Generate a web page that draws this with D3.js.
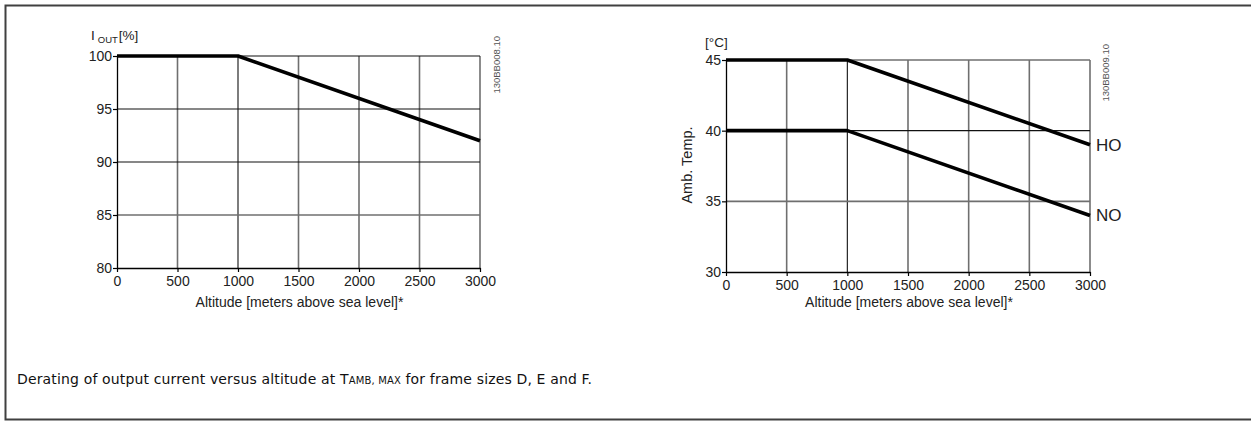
<!DOCTYPE html>
<html>
<head>
<meta charset="utf-8">
<script src="https://cdn.jsdelivr.net/npm/d3@7"></script>
<style>
  html, body { margin: 0; padding: 0; background: #fff; overflow: hidden; }
  svg { display: block; }
</style>
</head>
<body>
<svg id="chart" width="1251" height="421"></svg>
<script>
// ---- data ----
const altitude = [0, 1000, 3000];
const ioutPct = [100, 100, 92];
const hoTemp = [45, 45, 39];
const noTemp = [40, 40, 34];
const xTicks = [0, 500, 1000, 1500, 2000, 2500, 3000];
const yTicksCurrent = [80, 85, 90, 95, 100];
const yTicksTemp = [30, 35, 40, 45];
const xTitle = "Altitude [meters above sea level]*";
const caption = "Derating of output current versus altitude at T";

const SANS = "'Liberation Sans', Arial, sans-serif";
const svg = d3.select("#chart");

// outer frame (right edge lies outside the window)
svg.append("path")
  .attr("d", "M1260,5.5 H5.5 V419.5 H1260")
  .attr("fill", "none").attr("stroke", "#404040").attr("stroke-width", 2);

function txt(sel) {
  return sel.style("font-family", SANS).style("fill", "#222");
}

function panel(opts) {
  const x = d3.scaleLinear().domain([0, 3000]).range(opts.xr);
  const y = d3.scaleLinear().domain(opts.yd).range(opts.yr);
  const g = svg.append("g");

  // grid
  const gg = g.append("g");
  xTicks.forEach(t => {
    if (t === 0) return;
    const dark = opts.darkX.includes(t);
    gg.append("line").attr("x1", x(t)).attr("x2", x(t))
      .attr("y1", y(opts.yd[0])).attr("y2", y(opts.yd[1]))
      .attr("stroke", dark ? "#111" : "#6f6f6f").attr("stroke-width", dark ? 1.1 : 1.6);
  });
  opts.yTicks.forEach(t => {
    if (t === opts.yd[0]) return;
    const dark = opts.darkY.includes(t);
    gg.append("line").attr("x1", x(0)).attr("x2", x(3000))
      .attr("y1", y(t)).attr("y2", y(t))
      .attr("stroke", dark ? "#111" : "#6f6f6f").attr("stroke-width", dark ? 1.1 : 1.6);
  });

  // axes
  const xa = g.append("g").attr("transform", `translate(0,${y(opts.yd[0])})`)
    .call(d3.axisBottom(x).tickValues(xTicks).tickFormat(d3.format("d"))
      .tickSize(4).tickPadding(4).tickSizeOuter(0));
  const ya = g.append("g").attr("transform", `translate(${x(0)},0)`)
    .call(d3.axisLeft(y).tickValues(opts.yTicks).tickFormat(d3.format("d"))
      .tickSize(4).tickPadding(1).tickSizeOuter(0));
  [xa, ya].forEach(a => {
    a.select(".domain").attr("stroke", "#000").attr("stroke-width", 1.3);
    a.selectAll(".tick line").attr("stroke", "#000").attr("stroke-width", 1.2);
    txt(a.selectAll(".tick text")).style("font-size", "14px");
  });

  // series
  const line = d3.line().x((d, i) => x(altitude[i])).y(d => y(d));
  opts.series.forEach(s => {
    g.append("path").datum(s)
      .attr("d", line).attr("fill", "none").attr("stroke", "#000")
      .attr("stroke-width", 3.6).attr("stroke-linejoin", "round");
  });

  // x title
  txt(g.append("text").attr("x", (opts.xr[0] + opts.xr[1]) / 2 + 1).attr("y", 307)
    .attr("text-anchor", "middle")).style("font-size", "14px").text(xTitle);

  // code label
  g.append("text")
    .attr("transform", `translate(${opts.codeX},${opts.codeY}) rotate(-90)`)
    .attr("text-anchor", "end")
    .style("font-family", SANS).style("font-size", "9.5px").style("fill", "#555")
    .text(opts.code);
  return { x, y, g };
}

// panel 1: output current
const p1 = panel({
  xr: [117, 480], yd: [80, 100], yr: [268, 56],
  yTicks: yTicksCurrent, darkX: [1000], darkY: [90, 95, 100],
  series: [ioutPct], code: "130BB008.10", codeX: 500, codeY: 36
});
const l1 = txt(p1.g.append("text").attr("x", 91).attr("y", 40)).style("font-size", "13.5px");
l1.append("tspan").text("I");
l1.append("tspan").attr("dx", 3).attr("dy", 3).style("font-size", "9.5px").text("OUT");
l1.append("tspan").attr("dx", 1).attr("dy", -3).text("[%]");

// panel 2: ambient temperature
const p2 = panel({
  xr: [726, 1090], yd: [30, 45], yr: [272, 60],
  yTicks: yTicksTemp, darkX: [1000], darkY: [40],
  series: [hoTemp, noTemp], code: "130BB009.10", codeX: 1109, codeY: 44
});
txt(p2.g.append("text").attr("x", 705).attr("y", 47)).style("font-size", "13.5px").text("[°C]");
txt(p2.g.append("text").attr("transform", "translate(692,165) rotate(-90)")
  .attr("text-anchor", "middle")).style("font-size", "14.5px").text("Amb. Temp.");
txt(p2.g.append("text").attr("x", 1096).attr("y", p2.y(hoTemp[2]) + 6))
  .style("font-size", "17px").text("HO");
txt(p2.g.append("text").attr("x", 1096).attr("y", p2.y(noTemp[2]) + 6))
  .style("font-size", "17px").text("NO");

// caption
const cap = svg.append("text").attr("x", 17).attr("y", 384)
  .style("font-family", "'DejaVu Sans', Verdana, sans-serif")
  .style("font-size", "14px").style("letter-spacing", "0.15px").style("fill", "#111");
cap.append("tspan").text(caption);
cap.append("tspan").style("font-size", "10px").text("AMB, MAX");
cap.append("tspan").text(" for frame sizes D, E and F.");
</script>
</body>
</html>
